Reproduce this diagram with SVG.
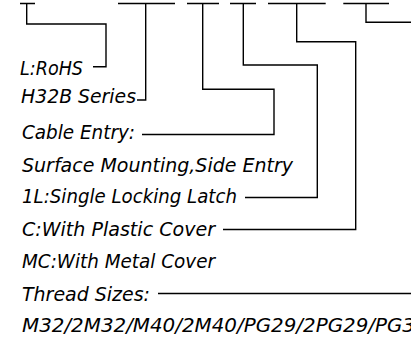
<svg xmlns="http://www.w3.org/2000/svg" width="411" height="337" viewBox="0 0 411 337">
<style>
.t{font-family:"DejaVu Sans","Liberation Sans",sans-serif;font-style:italic;font-size:19px;fill:#000}
.c{fill:none;stroke:#000;stroke-width:1.4}
</style>
<rect width="411" height="337" fill="#fff"/>
<g id="connectors">
<path class="c" d="M20 3.5H35M26.7 3.5V24H106V66.7H93"/>
<path class="c" d="M118 3.5H175M145.7 3.5V100H137"/>
<path class="c" d="M187 3.5H219M202.7 3.5V89.3H274V134.5H142"/>
<path class="c" d="M230 3.5H256M243.3 3.5V65H317.3V197.5H245"/>
<path class="c" d="M268 3.5H325.7M296.7 3.5V41.7H355.7V229.5H223"/>
<path class="c" d="M343.3 3.5H389M366 3.5V22.3H412M412 293.5H158"/>
</g>
<g id="n-rohs"><text class="t" x="20" y="75" textLength="63" lengthAdjust="spacingAndGlyphs">L:RoHS</text></g>
<g id="n-series"><text class="t" x="21" y="103" textLength="115" lengthAdjust="spacingAndGlyphs">H32B Series</text></g>
<g id="n-cable"><text class="t" x="22" y="139" textLength="113" lengthAdjust="spacingAndGlyphs">Cable Entry:</text></g>
<g id="n-surface"><text class="t" x="22" y="171.5" textLength="271" lengthAdjust="spacingAndGlyphs">Surface Mounting,Side Entry</text></g>
<g id="n-latch"><text class="t" x="22" y="203" textLength="215" lengthAdjust="spacingAndGlyphs">1L:Single Locking Latch</text></g>
<g id="n-plastic"><text class="t" x="22" y="236" textLength="193" lengthAdjust="spacingAndGlyphs">C:With Plastic Cover</text></g>
<g id="n-metal"><text class="t" x="22" y="268" textLength="193" lengthAdjust="spacingAndGlyphs">MC:With Metal Cover</text></g>
<g id="n-thread"><text class="t" x="22" y="301" textLength="128" lengthAdjust="spacingAndGlyphs">Thread Sizes:</text></g>
<g id="n-sizes"><text class="t" x="22" y="331.5" textLength="393" lengthAdjust="spacingAndGlyphs">M32/2M32/M40/2M40/PG29/2PG29/PG3</text></g>
</svg>
